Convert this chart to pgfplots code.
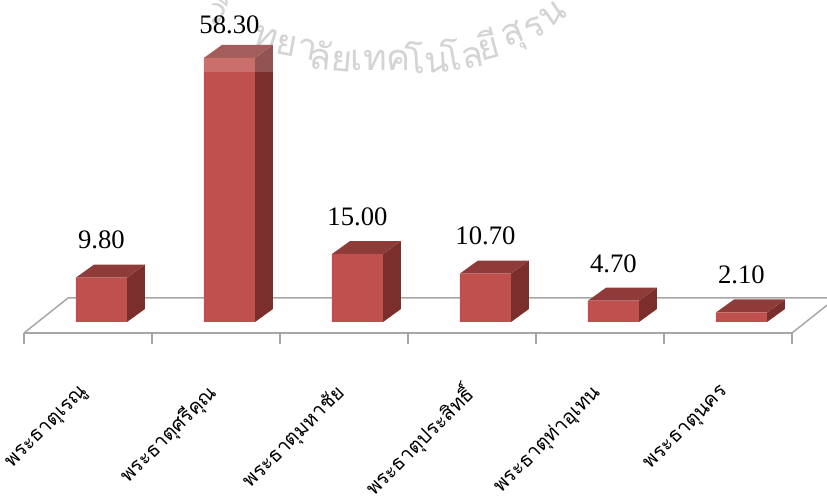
\documentclass[border=0pt]{standalone}
\usepackage{fontspec}
\usepackage{pgfplots}
\pgfplotsset{compat=1.18}
\setmainfont{Liberation Serif}
\newfontfamily\thaifont[Script=Thai]{Loma}
\definecolor{front}{HTML}{C0504D}
\definecolor{side}{HTML}{7B2F2D}
\definecolor{topf}{HTML}{8F3B39}
\definecolor{floorc}{HTML}{A6A6A6}
\definecolor{wm}{HTML}{D4D4D4}
\newcommand{\wm}[4]{\node[rotate=#4,text=wm,font=\thaifont\fontsize{27}{27}\selectfont,inner sep=0pt] at (#1*0.75pt,{(502-#2)*0.75pt}) {#3};}
\begin{document}
\begin{tikzpicture}
\path[use as bounding box] (0,0) rectangle (620.25pt,376.5pt);
\wm{218}{10}{วิ}{-30}
\wm{266}{38}{ท}{-18}
\wm{297}{47}{ยา}{-10}
\wm{331}{56}{ลัย}{-5}
\wm{381}{60}{เทค}{0}
\wm{427}{57}{โน}{4}
\wm{462}{53}{โล}{10}
\wm{488}{44}{ยี}{15}
\wm{514}{38}{สุ}{22}
\wm{535}{28}{ร}{30}
\wm{553}{14}{น}{35}
\begin{axis}[
  at={(18pt,126.75pt)}, anchor=south west,
  scale only axis, width=576pt, height=249.75pt,
  xmin=0, xmax=6, ymin=-2.43, ymax=71.08,
  clip=false, axis y line=none, axis x line*=bottom,
  axis line style={floorc,line width=1.1pt},
  xtick={0.5,1.5,2.5,3.5,4.5,5.5},
  xticklabels={พระธาตุเรณู,พระธาตุศรีคุณ,พระธาตุมหาชัย,พระธาตุประสิทธิ์,พระธาตุท่าอุเทน,พระธาตุนคร},
  minor xtick={0,1,2,3,4,5,6},
  major tick length=0pt, minor tick length=8pt, tick align=outside,
  minor tick style={floorc,line width=1.1pt},
  xticklabel style={font=\thaifont\fontsize{15}{15}\selectfont,rotate=45,anchor=east,yshift=-29.2pt,xshift=-28pt},
  /pgf/number format/assume math mode=true,
]
% floor
\addplot[floorc,line width=1.1pt,no marks] coordinates {(0,-2.43)(0.344,5.3)(6.273,5.3)};
\addplot[floorc,line width=1.1pt,no marks] coordinates {(6,-2.43)(6.273,3.7)};
% sides
\addplot[fill=side,draw=none,no marks] coordinates {(0.805,0)(0.945,2.87)(0.945,12.67)(0.805,9.8)} --cycle;
\addplot[fill=side,draw=none,no marks] coordinates {(1.805,0)(1.945,2.87)(1.945,61.17)(1.805,58.3)} --cycle;
\addplot[fill=side,draw=none,no marks] coordinates {(2.805,0)(2.945,2.87)(2.945,17.87)(2.805,15)} --cycle;
\addplot[fill=side,draw=none,no marks] coordinates {(3.805,0)(3.945,2.87)(3.945,13.57)(3.805,10.7)} --cycle;
\addplot[fill=side,draw=none,no marks] coordinates {(4.805,0)(4.945,2.87)(4.945,7.57)(4.805,4.7)} --cycle;
\addplot[fill=side,draw=none,no marks] coordinates {(5.805,0)(5.945,2.87)(5.945,4.97)(5.805,2.1)} --cycle;
% tops
\addplot[fill=topf,draw=none,no marks] coordinates {(0.406,9.8)(0.805,9.8)(0.945,12.67)(0.547,12.67)} --cycle;
\addplot[fill=topf,draw=none,no marks] coordinates {(1.406,58.3)(1.805,58.3)(1.945,61.17)(1.547,61.17)} --cycle;
\addplot[fill=topf,draw=none,no marks] coordinates {(2.406,15)(2.805,15)(2.945,17.87)(2.547,17.87)} --cycle;
\addplot[fill=topf,draw=none,no marks] coordinates {(3.406,10.7)(3.805,10.7)(3.945,13.57)(3.547,13.57)} --cycle;
\addplot[fill=topf,draw=none,no marks] coordinates {(4.406,4.7)(4.805,4.7)(4.945,7.57)(4.547,7.57)} --cycle;
\addplot[fill=topf,draw=none,no marks] coordinates {(5.406,2.1)(5.805,2.1)(5.945,4.97)(5.547,4.97)} --cycle;
% fronts with value labels
\addplot[ybar,bar width=38.25pt,fill=front,draw=none,
  nodes near coords,
  every node near coord/.append style={anchor=center,yshift=28pt,text=black,font=\fontsize{20}{20}\selectfont,
    /pgf/number format/fixed,/pgf/number format/fixed zerofill,/pgf/number format/precision=2,
    /pgf/number format/assume math mode=true},
  coordinate style/.condition={y>50}{yshift=-3.5pt}]
  coordinates {(0.605,9.8)(1.605,58.3)(2.605,15)(3.605,10.7)(4.605,4.7)(5.605,2.1)};
% pale band at the top of the tall bar
\addplot[fill=white,fill opacity=0.18,draw=none,no marks] coordinates {(1.406,55.2)(1.945,55.2)(1.945,61.17)(1.547,61.17)(1.406,58.3)} --cycle;
\end{axis}
\end{tikzpicture}
\end{document}
